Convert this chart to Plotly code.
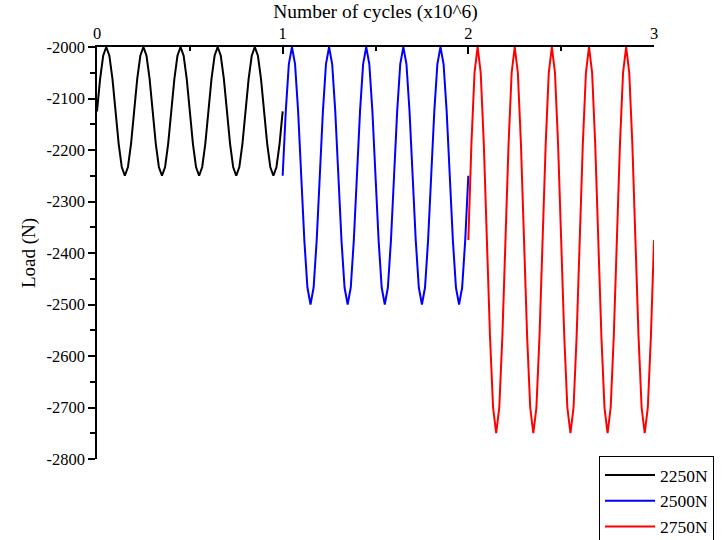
import plotly.graph_objects as go

# Number of cycles (x10^6), sampled every 1/60
cycles_2250 = [0.0000, 0.0167, 0.0333, 0.0500, 0.0667, 0.0833, 0.1000, 0.1167, 0.1333, 0.1500, 0.1667, 0.1833,
               0.2000, 0.2167, 0.2333, 0.2500, 0.2667, 0.2833, 0.3000, 0.3167, 0.3333, 0.3500, 0.3667, 0.3833,
               0.4000, 0.4167, 0.4333, 0.4500, 0.4667, 0.4833, 0.5000, 0.5167, 0.5333, 0.5500, 0.5667, 0.5833,
               0.6000, 0.6167, 0.6333, 0.6500, 0.6667, 0.6833, 0.7000, 0.7167, 0.7333, 0.7500, 0.7667, 0.7833,
               0.8000, 0.8167, 0.8333, 0.8500, 0.8667, 0.8833, 0.9000, 0.9167, 0.9333, 0.9500, 0.9667, 0.9833,
               1.0000]
cycles_2500 = [1.0000, 1.0167, 1.0333, 1.0500, 1.0667, 1.0833, 1.1000, 1.1167, 1.1333, 1.1500, 1.1667, 1.1833,
               1.2000, 1.2167, 1.2333, 1.2500, 1.2667, 1.2833, 1.3000, 1.3167, 1.3333, 1.3500, 1.3667, 1.3833,
               1.4000, 1.4167, 1.4333, 1.4500, 1.4667, 1.4833, 1.5000, 1.5167, 1.5333, 1.5500, 1.5667, 1.5833,
               1.6000, 1.6167, 1.6333, 1.6500, 1.6667, 1.6833, 1.7000, 1.7167, 1.7333, 1.7500, 1.7667, 1.7833,
               1.8000, 1.8167, 1.8333, 1.8500, 1.8667, 1.8833, 1.9000, 1.9167, 1.9333, 1.9500, 1.9667, 1.9833,
               2.0000]
cycles_2750 = [2.0000, 2.0167, 2.0333, 2.0500, 2.0667, 2.0833, 2.1000, 2.1167, 2.1333, 2.1500, 2.1667, 2.1833,
               2.2000, 2.2167, 2.2333, 2.2500, 2.2667, 2.2833, 2.3000, 2.3167, 2.3333, 2.3500, 2.3667, 2.3833,
               2.4000, 2.4167, 2.4333, 2.4500, 2.4667, 2.4833, 2.5000, 2.5167, 2.5333, 2.5500, 2.5667, 2.5833,
               2.6000, 2.6167, 2.6333, 2.6500, 2.6667, 2.6833, 2.7000, 2.7167, 2.7333, 2.7500, 2.7667, 2.7833,
               2.8000, 2.8167, 2.8333, 2.8500, 2.8667, 2.8833, 2.9000, 2.9167, 2.9333, 2.9500, 2.9667, 2.9833,
               3.0000]

# Load (N)
load_2250 = [-2125, -2062, -2017, -2000, -2017, -2062, -2125, -2188, -2233, -2250, -2233, -2188,
             -2125, -2062, -2017, -2000, -2017, -2062, -2125, -2188, -2233, -2250, -2233, -2188,
             -2125, -2062, -2017, -2000, -2017, -2062, -2125, -2188, -2233, -2250, -2233, -2188,
             -2125, -2062, -2017, -2000, -2017, -2062, -2125, -2188, -2233, -2250, -2233, -2188,
             -2125, -2062, -2017, -2000, -2017, -2062, -2125, -2188, -2233, -2250, -2233, -2188,
             -2125]
load_2500 = [-2250, -2125, -2033, -2000, -2033, -2125, -2250, -2375, -2467, -2500, -2467, -2375,
             -2250, -2125, -2033, -2000, -2033, -2125, -2250, -2375, -2467, -2500, -2467, -2375,
             -2250, -2125, -2033, -2000, -2033, -2125, -2250, -2375, -2467, -2500, -2467, -2375,
             -2250, -2125, -2033, -2000, -2033, -2125, -2250, -2375, -2467, -2500, -2467, -2375,
             -2250, -2125, -2033, -2000, -2033, -2125, -2250, -2375, -2467, -2500, -2467, -2375,
             -2250]
load_2750 = [-2375, -2188, -2050, -2000, -2050, -2188, -2375, -2562, -2700, -2750, -2700, -2562,
             -2375, -2188, -2050, -2000, -2050, -2188, -2375, -2562, -2700, -2750, -2700, -2562,
             -2375, -2188, -2050, -2000, -2050, -2188, -2375, -2562, -2700, -2750, -2700, -2562,
             -2375, -2188, -2050, -2000, -2050, -2188, -2375, -2562, -2700, -2750, -2700, -2562,
             -2375, -2188, -2050, -2000, -2050, -2188, -2375, -2562, -2700, -2750, -2700, -2562,
             -2375]

x_ticks = [0, 1, 2, 3]
x_tick_labels = ["0", "1", "2", "3"]
y_ticks = [-2000, -2100, -2200, -2300, -2400, -2500, -2600, -2700, -2800]
y_tick_labels = ["-2000", "-2100", "-2200", "-2300", "-2400", "-2500", "-2600", "-2700", "-2800"]

series_names = ["2250N", "2500N", "2750N"]
series_colors = ["#000000", "#0000ff", "#ff0000"]
series_x = [cycles_2250, cycles_2500, cycles_2750]
series_y = [load_2250, load_2500, load_2750]

FONT = "Liberation Serif, Times New Roman, serif"

fig = go.Figure()
for name, color, xs, ys in zip(series_names, series_colors, series_x, series_y):
    fig.add_trace(go.Scatter(x=xs, y=ys, mode="lines", name=name,
                             line=dict(color=color, width=2)))

fig.update_layout(
    width=723, height=540,
    margin=dict(l=97, r=69, t=47, b=81, autoexpand=False),
    paper_bgcolor="white", plot_bgcolor="white",
    font=dict(family=FONT, size=16.5, color="black"),
    showlegend=True,
    legend=dict(xref="container", yref="container",
                x=599 / 723, y=(540 - 456) / 540, xanchor="left", yanchor="top",
                bordercolor="black", borderwidth=1, bgcolor="white",
                font=dict(family=FONT, size=17.5, color="black"),
                itemwidth=50, tracegroupgap=0),
    xaxis=dict(range=[0, 3], side="top", showgrid=False, zeroline=False,
               showline=True, linecolor="black", linewidth=1.5,
               ticks="inside", ticklen=7, tickwidth=1.5, tickcolor="black",
               tickvals=x_ticks, ticktext=x_tick_labels,
               minor=dict(tickvals=[0.5, 1.5, 2.5], ticks="inside", ticklen=4,
                          tickwidth=1.5, tickcolor="black", showgrid=False),
               title=dict(text="Number of cycles (x10^6)", standoff=0,
                          font=dict(family=FONT, size=19.5)),
               tickfont=dict(family=FONT, size=16.5)),
    yaxis=dict(range=[-2800, -2000], showgrid=False, zeroline=False,
               showline=True, linecolor="black", linewidth=1.5,
               ticks="outside", ticklen=7, tickwidth=1.5, tickcolor="black",
               tickvals=y_ticks, ticktext=y_tick_labels,
               minor=dict(tickvals=[-2050, -2150, -2250, -2350, -2450, -2550, -2650, -2750],
                          ticks="outside", ticklen=5, tickwidth=1.5, tickcolor="black",
                          showgrid=False),
               title=dict(text="Load (N)", standoff=6,
                          font=dict(family=FONT, size=19)),
               tickfont=dict(family=FONT, size=16.5)),
)

fig.write_html("out.html")
